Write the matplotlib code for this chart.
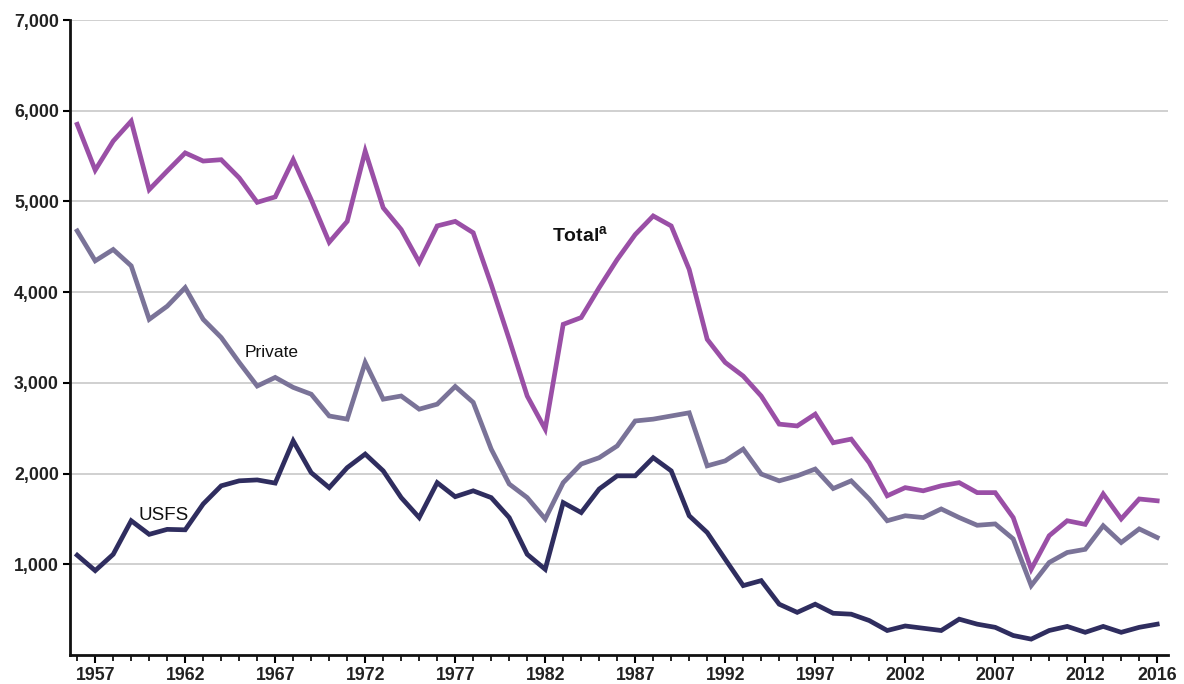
import matplotlib.pyplot as plt
from matplotlib.ticker import FuncFormatter

years = list(range(1956, 2017))

total = [5850, 5345, 5665, 5885, 5130, 5335, 5535, 5445, 5460, 5260,
         4990, 5050, 5460, 5020, 4550, 4780, 5555, 4930, 4690, 4330,
         4730, 4780, 4655, 4085, 3480, 2855, 2490, 3645, 3720, 4050,
         4360, 4635, 4840, 4730, 4250, 3480, 3225, 3075, 2855, 2545,
         2525, 2655, 2340, 2380, 2120, 1755, 1845, 1810, 1865, 1900,
         1790, 1790, 1515, 945, 1315, 1480, 1440, 1775, 1500, 1720,
         1700]

private = [4675, 4345, 4470, 4290, 3700, 3845, 4050, 3700, 3500, 3225,
           2965, 3060, 2950, 2875, 2635, 2600, 3225, 2820, 2855, 2710,
           2765, 2960, 2785, 2270, 1885, 1735, 1500, 1900, 2105, 2175,
           2305, 2580, 2600, 2635, 2670, 2085, 2140, 2270, 1995, 1920,
           1975, 2050, 1835, 1920, 1720, 1480, 1535, 1515, 1610, 1515,
           1430, 1445, 1280, 765, 1020, 1130, 1165, 1425, 1240, 1390,
           1295]

usfs = [1100, 930, 1110, 1480, 1330, 1385, 1380, 1665, 1865, 1920,
        1930, 1895, 2360, 2010, 1845, 2065, 2215, 2030, 1735, 1515,
        1900, 1745, 1810, 1735, 1515, 1110, 945, 1680, 1570, 1830,
        1975, 1975, 2175, 2030, 1535, 1350, 1055, 765, 820, 560,
        470, 560, 460, 450, 380, 270, 320, 295, 270, 395,
        340, 305, 215, 175, 270, 315, 250, 315, 250, 305,
        340]

tick_years = [1957, 1962, 1967, 1972, 1977, 1982, 1987, 1992, 1997, 2002, 2007, 2012, 2016]
y_ticks = [1000, 2000, 3000, 4000, 5000, 6000, 7000]

plt.rcParams['font.family'] = ['Liberation Sans', 'DejaVu Sans']

fig = plt.figure(figsize=(11.84, 6.84), dpi=100)
ax = fig.add_axes([70 / 1184, 29 / 684, 1098 / 1184, 635 / 684])

ax.plot(years, total, color="#9a4fa6", lw=3.4, solid_joinstyle="miter", zorder=3)
ax.plot(years, private, color="#7a7398", lw=3.4, solid_joinstyle="miter", zorder=3)
ax.plot(years, usfs, color="#2f2d5f", lw=3.4, solid_joinstyle="miter", zorder=3)

ax.set_xlim(1955.6, 2016.6)
ax.set_ylim(0, 7000)

ax.set_yticks(y_ticks)
ax.yaxis.set_major_formatter(FuncFormatter(lambda v, p: f"{int(v):,}"))
ax.grid(axis="y", color="#c8c8c8", lw=1.2, zorder=0)

ax.set_xticks(tick_years)
ax.set_xticks(years, minor=True)
ax.tick_params(axis="x", which="major", length=6, width=1.5, direction="out", pad=3)
ax.tick_params(axis="x", which="minor", length=4, width=1.2, direction="out")
ax.tick_params(axis="y", length=5, width=1.5, direction="out", pad=3)
for lbl in ax.get_xticklabels() + ax.get_yticklabels():
    lbl.set_fontsize(12.8)
    lbl.set_fontweight("bold")
    lbl.set_color("#222222")

for side in ["top", "right"]:
    ax.spines[side].set_visible(False)
for side in ["left", "bottom"]:
    ax.spines[side].set_linewidth(2)
    ax.spines[side].set_color("#111111")

ax.text(1982.4, 4550, "Total$^{\\mathregular{a}}$", fontsize=14, fontweight="bold",
        color="#111111", va="baseline")
ax.text(1965.3, 3285, "Private", fontsize=12.5, color="#111111", va="baseline")
ax.text(1959.4, 1490, "USFS", fontsize=13.5, color="#111111", va="baseline")

fig.savefig("out.png", dpi=100, facecolor="white")
plt.close(fig)
